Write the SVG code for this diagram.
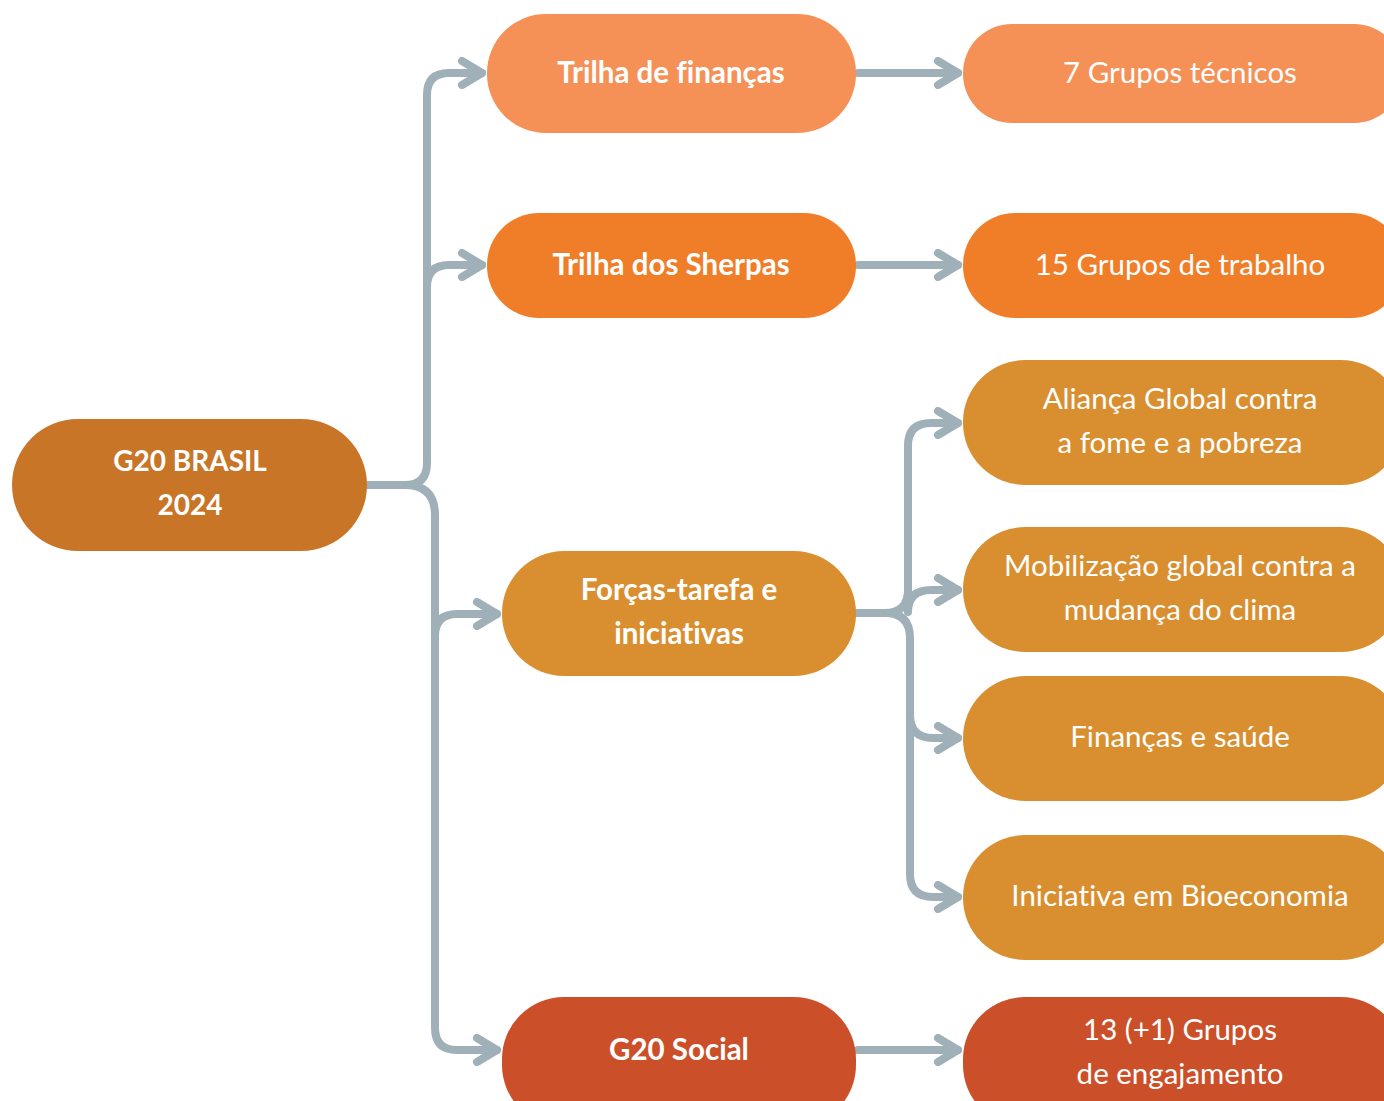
<svg xmlns="http://www.w3.org/2000/svg" width="1384" height="1101" viewBox="0 0 1384 1101">
<style>
.lbl{fill:#fff;font-family:Lato,"Liberation Sans",sans-serif;text-anchor:middle;font-variant-ligatures:none}
.b{font-weight:bold;font-size:29.5px}
.r{font-size:29.5px}
.g{font-size:28px}
.c{fill:none;stroke:#9FB0B8;stroke-width:8;stroke-linecap:round;stroke-linejoin:round}
</style>
<defs>
<marker id="ah" viewBox="-26 -16 30 32" refX="0" refY="0" markerWidth="30" markerHeight="32" markerUnits="userSpaceOnUse" orient="auto">
<path d="M -20 -12 L 0 0 L -20 12" fill="none" stroke="#9FB0B8" stroke-width="8" stroke-linecap="round" stroke-linejoin="round"/>
</marker>
</defs>
<rect width="1384" height="1101" fill="#fff"/>
<g id="connectors">
<path class="c" d="M 367 485 H 405 Q 427 485 427 463 V 95 Q 427 73 449 73 H 482" marker-end="url(#ah)"/>
<path class="c" d="M 427 287 Q 427 265 449 265 H 482" marker-end="url(#ah)"/>
<path class="c" d="M 405 485 Q 435 485 435 515 V 1028 Q 435 1050 457 1050 H 497" marker-end="url(#ah)"/>
<path class="c" d="M 435 636 Q 435 614 457 614 H 497" marker-end="url(#ah)"/>
<path class="c" d="M 858 73 H 958" marker-end="url(#ah)"/>
<path class="c" d="M 858 265 H 958" marker-end="url(#ah)"/>
<path class="c" d="M 858 1050 H 958" marker-end="url(#ah)"/>
<path class="c" d="M 856 613 H 885 Q 908 613 908 590 V 446 Q 908 423 931 423 H 958" marker-end="url(#ah)"/>
<path class="c" d="M 908 612 Q 908 590 931 590 H 958" marker-end="url(#ah)"/>
<path class="c" d="M 885 613 Q 910 613 910 638 V 874 Q 910 897 933 897 H 958" marker-end="url(#ah)"/>
<path class="c" d="M 910 715 Q 910 738 933 738 H 958" marker-end="url(#ah)"/>
</g>
<g id="n-g20">
<rect x="12" y="419" width="355" height="132" rx="66" fill="#C87528"/>
<text class="lbl b g" x="190" y="471">G20 BRASIL</text>
<text class="lbl b g" x="190" y="515">2024</text>
</g>
<g id="n-financas">
<rect x="487" y="14" width="369" height="119" rx="59" fill="#F59157"/>
<text class="lbl b" x="671" y="83">Trilha de finanças</text>
</g>
<g id="n-sherpas">
<rect x="487" y="213" width="369" height="105" rx="52" fill="#F07E28"/>
<text class="lbl b" x="671" y="275">Trilha dos Sherpas</text>
</g>
<g id="n-forcas">
<rect x="502" y="551" width="354" height="125" rx="62" fill="#D98F30"/>
<text class="lbl b" x="679" y="600">Forças-tarefa e</text>
<text class="lbl b" x="679" y="644">iniciativas</text>
</g>
<g id="n-social">
<rect x="502" y="997" width="354" height="130" rx="62" fill="#CB4F28"/>
<text class="lbl b" x="679" y="1060">G20 Social</text>
</g>
<g id="n-tecnicos">
<rect x="963" y="24" width="440" height="99" rx="49" fill="#F59157"/>
<text class="lbl r" x="1180" y="83">7 Grupos técnicos</text>
</g>
<g id="n-trabalho">
<rect x="963" y="213" width="440" height="105" rx="52" fill="#F07E28"/>
<text class="lbl r" x="1180" y="275">15 Grupos de trabalho</text>
</g>
<g id="n-alianca">
<rect x="963" y="360" width="440" height="125" rx="62" fill="#D98F30"/>
<text class="lbl r" x="1180" y="409">Aliança Global contra</text>
<text class="lbl r" x="1180" y="453">a fome e a pobreza</text>
</g>
<g id="n-clima">
<rect x="963" y="527" width="440" height="125" rx="62" fill="#D98F30"/>
<text class="lbl r" x="1180" y="576">Mobilização global contra a</text>
<text class="lbl r" x="1180" y="620">mudança do clima</text>
</g>
<g id="n-saude">
<rect x="963" y="676" width="440" height="125" rx="62" fill="#D98F30"/>
<text class="lbl r" x="1180" y="747">Finanças e saúde</text>
</g>
<g id="n-bio">
<rect x="963" y="835" width="440" height="125" rx="62" fill="#D98F30"/>
<text class="lbl r" x="1180" y="906">Iniciativa em Bioeconomia</text>
</g>
<g id="n-engajamento">
<rect x="963" y="997" width="440" height="130" rx="62" fill="#CB4F28"/>
<text class="lbl r" x="1180" y="1040">13 (+1) Grupos</text>
<text class="lbl r" x="1180" y="1084">de engajamento</text>
</g>
</svg>
